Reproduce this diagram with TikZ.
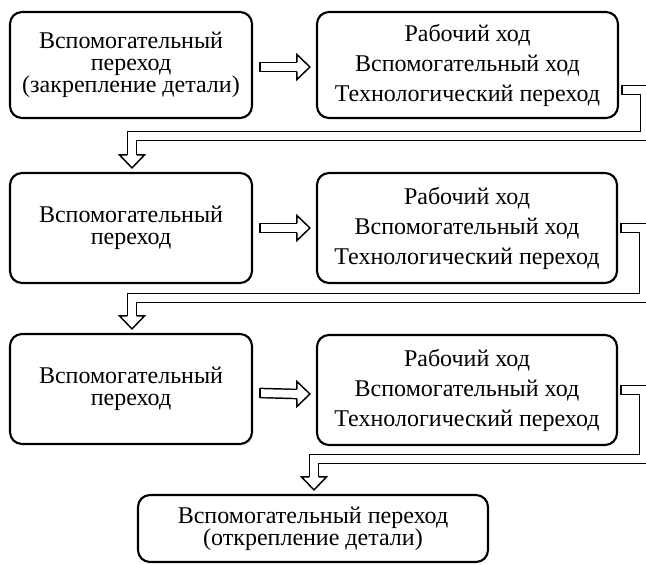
\documentclass[tikz,border=0pt]{standalone}
\usepackage{fontspec}
\setmainfont{Liberation Serif}
\usetikzlibrary{calc}

\tikzset{every picture/.style={line width=0.75pt}}
\tikzset{
  blok/.style={draw, rounded corners=9pt, line width=1.6pt, align=center, inner sep=0pt,
    font=\fontsize{18}{16.5}\selectfont},
  blokhod/.style={blok, font=\fontsize{18}{22.5}\selectfont},
  dvoyn/.style={double, double distance=5.8pt, line width=1.1pt, line join=miter},
  zamok/.style={line width=1.1pt},
  golova/.pic={\filldraw[fill=white, line width=1.1pt, line join=miter]
    (0,-4.6) -- (0,-12.5) -- (13,0) -- (0,12.5) -- (0,4.6);},
}

\begin{document}
\begin{tikzpicture}[x=0.75pt,y=0.75pt,yscale=-1,xscale=1]
\clip (0,0) rectangle (646,564);

% Row 1
\node[blok, minimum width=181.5pt, minimum height=79.5pt] (L1) at (131,65)
  {Вспомогательный\\переход\\(закрепление детали)};
\node[blokhod, minimum width=225.75pt, minimum height=79.5pt] (R1) at (467.5,65)
  {Рабочий ход\\Вспомогательный ход\\Технологический переход};
% Row 2
\node[blok, minimum width=181.5pt, minimum height=82.5pt] (L2) at (131,228)
  {Вспомогательный\\переход};
\node[blokhod, minimum width=225pt, minimum height=82.5pt] (R2) at (467,228)
  {Рабочий ход\\Вспомогательный ход\\Технологический переход};
% Row 3
\node[blok, minimum width=181.5pt, minimum height=82.5pt] (L3) at (131,389)
  {Вспомогательный\\переход};
\node[blokhod, minimum width=225pt, minimum height=82.5pt] (R3) at (467,390)
  {Рабочий ход\\Вспомогательный ход\\Технологический переход};
% Last step
\node[blok, minimum width=262.5pt, minimum height=50.25pt] (K) at (313,528.5)
  {Вспомогательный переход\\(открепление детали)};

% Horizontal arrows
\foreach \a/\b/\dy in {L1/R1/2, L2/R2/0, L3/R3/4}{
  \draw[dvoyn] ($(\a.east)+(7,\dy)$) -- ($(\b.west)+(-19,\dy)$);
  \draw[zamok] ($(\a.east)+(7,\dy-5.3)$) -- ($(\a.east)+(7,\dy+5.3)$);
  \pic at ($(\b.west)+(-19,\dy)$) {golova};
}

% Bent arrows to the next row
\draw[dvoyn] ($(R1.east)+(3,25)$) -- ++(23,0) |- ($(L2.north)+(1,-36)$) -- ($(L2.north)+(1,-17)$);
\draw[zamok] ($(R1.east)+(3,19.7)$) -- ($(R1.east)+(3,30.3)$);
\pic[rotate=-90] at ($(L2.north)+(1,-17)$) {golova};

\draw[dvoyn] ($(R2.east)+(3,0)$) -- ++(23,0) |- ($(L3.north)+(1,-35)$) -- ($(L3.north)+(1,-17)$);
\draw[zamok] ($(R2.east)+(3,-5.3)$) -- ($(R2.east)+(3,5.3)$);
\pic[rotate=-90] at ($(L3.north)+(1,-17)$) {golova};

\draw[dvoyn] ($(R3.east)+(3,0)$) -- ++(23,0) |- ($(K.north)+(1,-35)$) -- ($(K.north)+(1,-17)$);
\draw[zamok] ($(R3.east)+(3,-5.3)$) -- ($(R3.east)+(3,5.3)$);
\pic[rotate=-90] at ($(K.north)+(1,-17)$) {golova};

\end{tikzpicture}
\end{document}
